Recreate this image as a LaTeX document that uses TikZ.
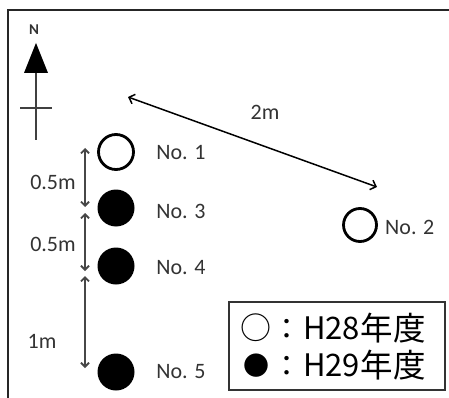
\documentclass[tikz,border=0pt]{standalone}
\usepackage{fontspec}
\setmainfont{Carlito}
\newfontfamily\jpfont{Noto Sans CJK JP}
\usetikzlibrary{arrows.meta}
\begin{document}
\begin{tikzpicture}[x=1pt,y=-1pt,
  lbl/.style={font=\fontsize{22}{24}\selectfont, text=black!80, inner sep=0pt},
  opendot/.style={circle, draw=black, line width=2.8pt, minimum size=35pt, inner sep=0pt},
  filldot/.style={circle, fill=black, minimum size=37pt, inner sep=0pt},
  dimarrow/.style={draw=black!72, line width=1.8pt, {Straight Barb[length=4pt,width=8pt]}-{Straight Barb[length=4pt,width=8pt]}},
  diagarrow/.style={draw=black, line width=1.5pt, {Straight Barb[length=5pt,width=10pt]}-{Straight Barb[length=5pt,width=10pt]}},
  legsym/.style={font=\jpfont\fontsize{31}{33}\selectfont, text=black, inner sep=0pt},
  legcol/.style={font=\jpfont\fontsize{29}{32}\selectfont, text=black, inner sep=0pt},
  leglat/.style={font=\jpfont\fontsize{31}{33}\selectfont, text=black, inner sep=0pt, anchor=west},
  legkan/.style={font=\jpfont\fontsize{32.5}{34}\selectfont, text=black, inner sep=0pt, anchor=west},
]
\useasboundingbox (0,0) rectangle (449,398);
\clip (0,0) rectangle (449,398);
% outer frame
\draw[line width=2pt, black!85] (8,10.5) rectangle (470,420);
% compass
\node[font=\bfseries\fontsize{15}{16}\selectfont, text=black!80, inner sep=0pt] (north) at (34,30) {N};
\draw[line width=2pt, black!75] (36,72) -- (36,140);
\draw[line width=2pt, black!75] (20,108) -- (52,108);
\fill[black] (36,43) -- (48,73) -- (24,73) -- cycle;
% points
\node[opendot] (p1) at (116,152) {};
\node[filldot] (p3) at (116,208) {};
\node[filldot] (p4) at (116,266) {};
\node[filldot] (p5) at (116,372) {};
\node[opendot, minimum size=33pt] (p2) at (360,225) {};
\node[lbl] (l1) at (181,153) {No. 1};
\node[lbl] (l3) at (181,211) {No. 3};
\node[lbl] (l4) at (181,268) {No. 4};
\node[lbl] (l5) at (181,372) {No. 5};
\node[lbl, anchor=west] (l2) at (385,227) {No. 2};
% dimension arrows
\coordinate (d1a) at (85,148);
\coordinate (d1b) at (85,207);
\coordinate (d2a) at (85,213);
\coordinate (d2b) at (85,271);
\coordinate (d3a) at (85,276);
\coordinate (d3b) at (85,368);
\draw[dimarrow] (d1a) -- (d1b);
\draw[dimarrow] (d2a) -- (d2b);
\draw[dimarrow] (d3a) -- (d3b);
\node[lbl] (m1) at (53,182) {0.5m};
\node[lbl] (m2) at (53,244) {0.5m};
\node[lbl] (m3) at (42,341) {1m};
% 2m arrow
\coordinate (ea) at (128,97);
\coordinate (eb) at (377,187);
\draw[diagarrow] (ea) -- (eb);
\node[lbl] (m4) at (265,112) {2m};
% legend
\node[draw=black!80, line width=1.5pt, minimum width=216pt, minimum height=88pt, anchor=north west, inner sep=0pt] (legend) at (228,301) {};
\node[legsym] (s1) at (256,328) {○};
\node[legcol] (c1) at (287,329) {：};
\node[leglat] (h1) at (303,328.5) {H28};
\node[legkan] (k1) at (h1.east) {年度};
\node[legsym, font=\jpfont\fontsize{26}{28}\selectfont] (s2) at (256,366) {●};
\node[legcol] (c2) at (287,366) {：};
\node[leglat] (h2) at (303,365.5) {H29};
\node[legkan] (k2) at (h2.east) {年度};
\end{tikzpicture}
\end{document}
